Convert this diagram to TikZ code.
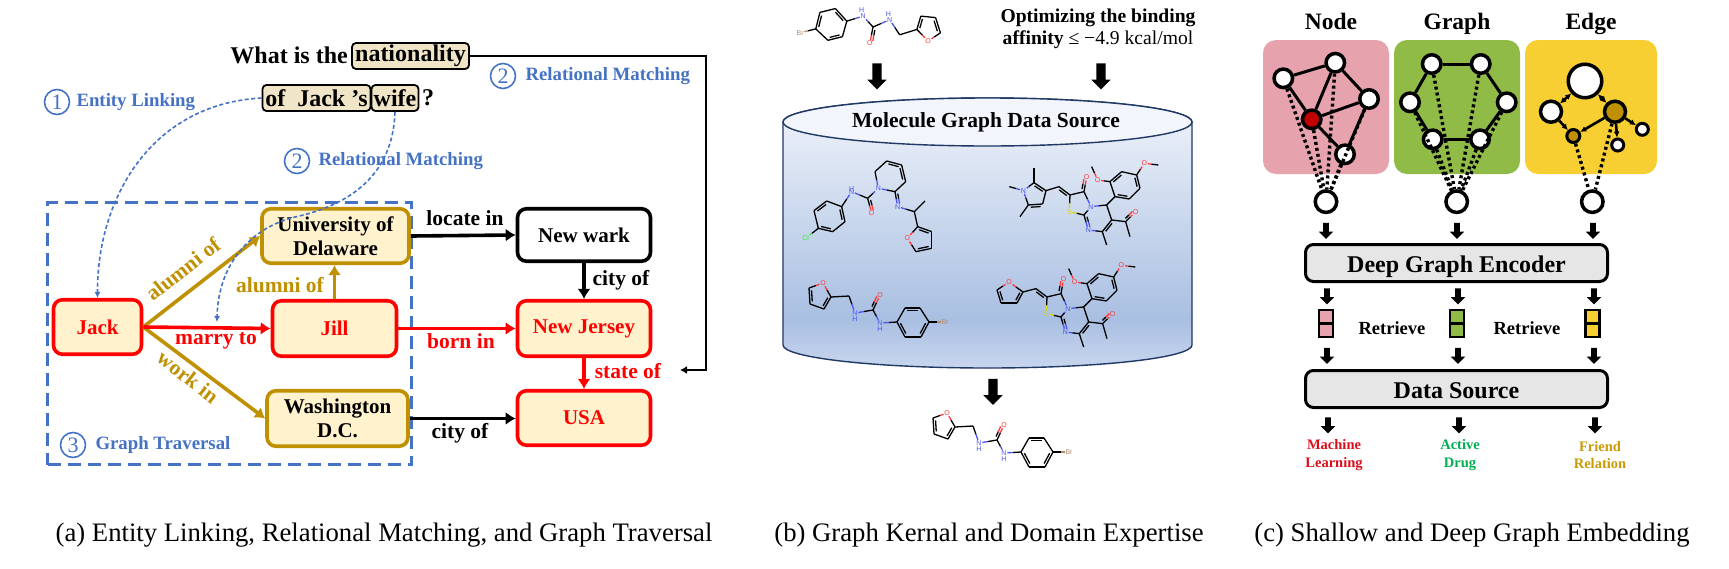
\documentclass[tikz,border=0pt]{standalone}
\usepackage{fontspec}
\setmainfont{Liberation Serif}
\setsansfont{Liberation Sans}
\usepackage{xcolor}
\usetikzlibrary{arrows.meta,calc,positioning,shapes.arrows}
\definecolor{linkblue}{HTML}{4472C4}
\definecolor{goldline}{HTML}{BF9000}
\definecolor{redline}{HTML}{FF0000}
\definecolor{entfill}{HTML}{FFF2CC}
\definecolor{qfill}{HTML}{F0E5C6}
\definecolor{pinkpanel}{HTML}{E6A3AD}
\definecolor{greenpanel}{HTML}{91BB47}
\definecolor{yellowpanel}{HTML}{F7CF33}
\definecolor{greybox}{HTML}{E7E6E6}
\definecolor{noderedc}{HTML}{C00000}
\definecolor{activegreen}{HTML}{00B050}
\definecolor{friendgold}{HTML}{CC9A06}
\definecolor{learnred}{HTML}{DB0F1C}
\definecolor{cyla}{HTML}{F2F5FB}
\definecolor{cylb}{HTML}{E1E9F5}
\definecolor{cyld}{HTML}{A9BFE2}
\definecolor{cylc}{HTML}{C8D6EE}
\definecolor{cylline}{HTML}{1F3864}
\definecolor{molN}{HTML}{4A55F2}
\definecolor{molO}{HTML}{FF3A3A}
\definecolor{molBr}{HTML}{B58A6A}
\definecolor{molCl}{HTML}{3FE83F}
\definecolor{molS}{HTML}{D8D800}
\pgfdeclareverticalshading{cylbody}{100bp}{color(0bp)=(cylc); color(25bp)=(cylc); color(34bp)=(cyld); color(66bp)=(cylb); color(75bp)=(cyla); color(100bp)=(cyla)}
\newcommand{\fsz}[1]{\fontsize{#1}{#1}\selectfont}
\newcommand{\hbond}[3]{\draw[molbond] (#1) -- ($(#1)!.5!(#2)$); \draw[molbond,#3] ($(#1)!.5!(#2)$) -- (#2);}
\newcommand{\dbond}[3]{\coordinate (dp) at ($(#1)!.16!(#2)!2.4pt!90:(#2)$); \coordinate (dq) at ($(#2)!.16!(#1)!2.4pt!-90:(#1)$); \hbond{dp}{dq}{#3}}
\tikzset{
  entity/.style={draw,rounded corners=9pt,line width=3.6pt,fill=entfill,align=center,inner sep=0pt,font=\bfseries\fsz{21}\linespread{1.15}\selectfont},
  goldent/.style={entity,draw=goldline},
  redent/.style={entity,draw=redline,text=redline},
  blkent/.style={entity,draw=black,fill=white},
  qbox/.style={draw,line width=1.8pt,rounded corners=4pt,fill=qfill,inner sep=0pt,minimum height=26pt,font=\bfseries\fsz{24}},
  qtext/.style={inner sep=0pt,font=\bfseries\fsz{24}},
  linkcirc/.style={circle,draw=linkblue,line width=1.6pt,text=linkblue,inner sep=0pt,minimum size=25pt,font=\fsz{22}},
  linktext/.style={inner sep=0pt,text=linkblue,font=\bfseries\fsz{18.8}},
  edgetext/.style={inner sep=0pt,font=\bfseries\fsz{21.5}},
  goldarr/.style={draw=goldline,line width=3.6pt,-{Latex[length=10pt,width=13pt]}},
  redarr/.style={draw=redline,line width=3.6pt,-{Latex[length=10pt,width=13pt]}},
  blkarr/.style={draw=black,line width=3.6pt,-{Latex[length=10pt,width=13pt]}},
  linkdash/.style={draw=linkblue,line width=1.6pt,dash pattern=on 4pt off 2.5pt,-{Latex[length=6pt,width=6pt]}},
  captext/.style={inner sep=0pt,font=\fsz{26.7}},
  bigarrow/.style={single arrow,fill=black,inner xsep=0pt,inner ysep=4.5pt,minimum height=26pt,single arrow head extend=5pt,rotate=-90},
  smallarrow/.style={single arrow,fill=black,inner xsep=0pt,inner ysep=2.6pt,minimum height=16pt,single arrow head extend=4.4pt,rotate=-90},
  molbond/.style={line width=1.3pt,black},
  atomlab/.style={inner sep=.6pt,font=\sffamily\fsz{7}},
  panelbox/.style={rounded corners=13pt,inner sep=0pt,minimum height=134pt},
  paneltitle/.style={inner sep=0pt,anchor=base,font=\bfseries\fsz{23.5}},
  gnode/.style={circle,draw,line width=3.5pt,fill=white,inner sep=0pt,minimum size=#1},
  gline/.style={line width=3pt},
  gdots/.style={line width=3.4pt,dash pattern=on 3pt off 3pt},
  garr/.style={line width=2.6pt,-{Latex[length=6pt,width=6pt]}},
  garrb/.style={line width=2.6pt,{Latex[length=6pt,width=6pt]}-{Latex[length=6pt,width=6pt]}},
  bigbox/.style={draw,line width=3pt,rounded corners=8pt,fill=greybox,minimum width=302pt,minimum height=37pt,inner sep=0pt,text height=19pt,text depth=0pt,font=\bfseries\fsz{24}},
  cell/.style={draw,line width=2.8pt,minimum width=14pt,minimum height=13pt,inner sep=0pt},
  outtext/.style={inner sep=0pt,align=center,font=\bfseries\fsz{14.5}\linespread{1.2}\selectfont},
  pics/urea/.style={code={
    \coordinate (c0) at (0,0);
    \node[atomlab,text=molO] (o1) at (7,-15) {O};
    \node[atomlab,text=molN] (n1) at (-18,3) {N};
    \node[atomlab,text=molN] (h1) at (-18,9) {H};
    \node[atomlab,text=molN] (n2) at (7,13) {N};
    \node[atomlab,text=molN] (h2) at (7,19) {H};
    \node[atomlab,text=molO] (fo) at (-50,-27) {O};
    \node[atomlab,text=molBr] (br) at (72,12) {Br};
    \coordinate (ch) at (-24,-14);
    \coordinate (f1) at (-42,-13);
    \coordinate (f2) at (-49,-1);
    \coordinate (f3) at (-63,-6);
    \coordinate (f4) at (-64,-22);
    \coordinate (r1) at (24,12);
    \coordinate (r2) at (32,-2);
    \coordinate (r3) at (47,-2);
    \coordinate (r4) at (56,12);
    \coordinate (r5) at (48,27);
    \coordinate (r6) at (32,27);
    \hbond{c0}{n1}{molN} \hbond{c0}{n2}{molN} \hbond{ch}{n1}{molN} \hbond{r1}{n2}{molN}
    \hbond{r4}{br}{molBr} \hbond{f1}{fo}{molO} \hbond{f4}{fo}{molO}
    \hbond{c0}{o1}{molO} \dbond{c0}{o1}{molO}
    \foreach \a/\b in {ch/f1,f1/f2,f2/f3,f3/f4,r1/r2,r2/r3,r3/r4,r4/r5,r5/r6,r6/r1}
      \draw[molbond] (\a) -- (\b);
    \dbond{f2}{f1}{black} \dbond{f4}{f3}{black} \dbond{r3}{r2}{black} \dbond{r5}{r4}{black} \dbond{r1}{r6}{black}
  }},
  pics/fusedcore/.style={code={
    \begin{scope}[x=.3333pt,y=-.3333pt]
    \coordinate (ch) at (897,560);
    \coordinate (thc) at (930,585);
    \coordinate (co) at (972,575);
    \node[atomlab,text=molO] (oa) at (980,532) {O};
    \node[atomlab,text=molN] (nb) at (993,620) {N};
    \node[atomlab,text=molS] (sb) at (928,635) {S};
    \coordinate (cb) at (972,645);
    \node[atomlab,text=molN] (nc) at (985,690) {N};
    \coordinate (cm) at (1027,695);
    \coordinate (mc) at (1040,735);
    \coordinate (cac) at (1055,660);
    \coordinate (acc) at (1097,665);
    \node[atomlab,text=molO] (oac) at (1127,635) {O};
    \coordinate (mac) at (1110,710);
    \coordinate (chf) at (1040,615);
    \coordinate (ar1) at (1065,590);
    \coordinate (ar2) at (1050,545);
    \coordinate (ar3) at (1085,515);
    \coordinate (ar4) at (1130,525);
    \coordinate (ar5) at (1140,565);
    \coordinate (ar6) at (1108,597);
    \node[atomlab,text=molO] (ome) at (1013,540) {O};
    \coordinate (mea) at (995,500);
    \node[atomlab,text=molO] (omf) at (1153,490) {O};
    \coordinate (meb) at (1195,495);
    \foreach \a/\b in {ch/thc,thc/co,cm/mc,cm/cac,cac/acc,acc/mac,cac/chf,chf/ar1,ar1/ar2,ar2/ar3,ar3/ar4,ar4/ar5,ar5/ar6,ar6/ar1}
      \draw[molbond] (\a) -- (\b);
    \hbond{co}{oa}{molO} \dbond{co}{oa}{molO} \hbond{co}{nb}{molN} \hbond{cb}{nb}{molN} \hbond{cb}{sb}{molS}
    \hbond{thc}{sb}{molS} \hbond{cb}{nc}{molN} \dbond{cb}{nc}{molN} \hbond{cm}{nc}{molN} \hbond{chf}{nb}{molN}
    \hbond{acc}{oac}{molO} \dbond{acc}{oac}{molO} \hbond{ar2}{ome}{molO} \hbond{mea}{ome}{molO} \hbond{ar4}{omf}{molO} \hbond{meb}{omf}{molO}
    \dbond{thc}{ch}{black} \dbond{cac}{cm}{black} \dbond{ar3}{ar2}{black} \dbond{ar5}{ar4}{black} \dbond{ar1}{ar6}{black}
    \end{scope}
  }},
}
\begin{document}
\begin{tikzpicture}[x=1pt,y=-1pt,>=Latex]
\useasboundingbox (0,0) rectangle (1729,568);
\fill[white] (0,0) rectangle (1729,568);

\node[draw=linkblue,line width=2.9pt,dash pattern=on 13pt off 7pt,minimum width=364pt,minimum height=262pt,inner sep=0pt] (travbox) at (229.5,333.5) {};
\node[qbox,minimum width=117pt] (nat) at (410.5,56) {nationality};
\node[qtext,anchor=east] (what) at (348,55) {What is the};
\node[qbox,minimum width=108pt] (jacks) at (316.5,98) {of\ \ Jack ’s};
\node[qbox,minimum width=47pt] (wife) at (395,98) {wife};
\node[qtext] (qmark) at (428,98) {?};
\node[goldent,minimum width=147pt,minimum height=54.5pt] (univ) at (335.5,236) {University of\\Delaware};
\node[redent,minimum width=88pt,minimum height=54.5pt] (jack) at (97.5,327) {Jack};
\node[redent,minimum width=124pt,minimum height=55.5pt] (jill) at (334.5,328.5) {Jill};
\node[goldent,minimum width=141pt,minimum height=55.5pt] (wash) at (337.5,418.5) {Washington\\D.C.};
\node[blkent,minimum width=133pt,minimum height=52.5pt] (newark) at (584,235) {New wark};
\node[redent,minimum width=133pt,minimum height=55.5pt] (jersey) at (584,328.5) {New Jersey};
\node[redent,minimum width=133pt,minimum height=54.5pt] (usa) at (584,418) {USA};

\draw[goldarr] (jack.east) -- (univ.west);
\draw[goldarr] (jack.east) -- (wash.west);
\draw[goldarr] (jill.north) -- (jill.north|-univ.south);
\draw[redarr] (jack.east) -- (jill.west);
\draw[redarr] (jill.east) -- (jersey.west);
\draw[blkarr] (univ.east) -- (newark.west);
\draw[blkarr] (newark.south) -- (jersey.north);
\draw[redarr] (jersey.south) -- (usa.north);
\draw[blkarr] (wash.east) -- (wash.east-|usa.west);
\coordinate (railb) at (706,370);
\coordinate (railtip) at (680,370);
\draw[line width=2.8pt,-{Latex[length=7pt,width=8pt]}] (nat.east) -| (railb) -- (railtip);

\draw[linkdash] (jacks.west) .. controls (150,104) and (97,200) .. (jack.north);
\coordinate (wifeend) at (217,322);
\coordinate (wifemid) at (295,217);
\draw[linkdash] (wife.south) .. controls (393,175) and (350,205) .. (wifemid) .. controls (250,228) and (218,265) .. (wifeend);

\node[edgetext,text=goldline,rotate=38] (alumnia) at (183,269) {alumni of};
\node[edgetext,text=goldline] (alumnib) at (280,285) {alumni of};
\node[edgetext,text=redline] (marry) at (216,341) {marry to};
\node[edgetext,text=goldline,rotate=-38] (workin) at (188,377) {work in};
\node[edgetext] (locate) at (465,218) {locate in};
\node[edgetext] (cityone) at (621,280) {city of};
\node[edgetext,text=redline] (born) at (461,341) {born in};
\node[edgetext,text=redline] (state) at (628,371) {state of};
\node[edgetext] (citytwo) at (460,433) {city of};

\node[linkcirc] (cira) at (57,102) {1};
\node[linktext,right=6pt of cira] (cirat) {Entity Linking};
\node[linkcirc] (cirb) at (503,76) {2};
\node[linktext,right=9pt of cirb] (cirbt) {Relational Matching};
\node[linkcirc] (circ) at (297,161) {2};
\node[linktext,right=8pt of circ] (circt) {Relational Matching};
\node[linkcirc] (cird) at (73,445) {3};
\node[linktext,right=9pt of cird] (cirdt) {Graph Traversal};

\node[inner sep=0pt,align=center,font=\fsz{19.6}] (optim) at (1098,29) {\textbf{Optimizing the binding}\\[3pt]\textbf{affinity} ≤ −4.9 kcal/mol};
\node[bigarrow] (arrowa) at (877,74) {};
\node[bigarrow] (arrowb) at (1101,74) {};
\path[shading=cylbody,draw=cylline,line width=1.4pt] (783,122) arc[start angle=180,end angle=0,x radius=204.5pt,y radius=24pt] -- (1192,345) arc[start angle=0,end angle=-180,x radius=204.5pt,y radius=23pt] -- cycle;
\draw[cylline,line width=1.4pt,fill=cyla] (987.5,122) ellipse[x radius=204.5pt,y radius=24pt];
\node[inner sep=0pt,font=\bfseries\fsz{21.5}] (srctitle) at (986,122) {Molecule Graph Data Source};
\node[bigarrow] (arrowc) at (993,389.5) {};

\pic[rotate=194] at (873,27) {urea};
\pic at (873,310) {urea};
\pic at (997,440) {urea};

\begin{scope}[shift={(760,0)},x=.3333pt,y=-.3333pt]
\node[atomlab,text=molCl] (cl) at (137,715) {Cl};
\node[atomlab,text=molN] (na) at (275,575) {N};
\node[atomlab,text=molN] (ha) at (275,566) {H};
\node[atomlab,text=molO] (oa) at (335,640) {O};
\node[atomlab,text=molN] (nb) at (355,565) {N};
\node[atomlab,text=molN] (nc) at (413,620) {N};
\node[atomlab,text=molO] (od) at (442,715) {O};
\coordinate (a1) at (175,685);
\coordinate (a2) at (162,632);
\coordinate (a3) at (200,603);
\coordinate (a4) at (245,620);
\coordinate (a5) at (255,665);
\coordinate (a6) at (218,695);
\coordinate (cu) at (323,595);
\coordinate (p1) at (345,515);
\coordinate (p2) at (380,483);
\coordinate (p3) at (425,495);
\coordinate (p4) at (437,545);
\coordinate (p5) at (405,575);
\coordinate (cx) at (463,635);
\coordinate (cy) at (495,603);
\coordinate (g1) at (473,680);
\coordinate (g2) at (468,755);
\coordinate (g3) at (515,745);
\coordinate (g4) at (515,695);
\foreach \a/\b in {a1/a2,a2/a3,a3/a4,a4/a5,a5/a6,a6/a1,p1/p2,p2/p3,p3/p4,p4/p5,cx/cy,cx/g1,g1/g4,g4/g3,g3/g2}
  \draw[molbond] (\a) -- (\b);
\hbond{a1}{cl}{molCl} \hbond{a4}{na}{molN} \hbond{cu}{na}{molN} \hbond{cu}{oa}{molO} \dbond{cu}{oa}{molO}
\hbond{cu}{nb}{molN} \hbond{p1}{nb}{molN} \hbond{p5}{nb}{molN} \hbond{p5}{nc}{molN} \dbond{p5}{nc}{molN}
\hbond{cx}{nc}{molN} \hbond{g1}{od}{molO} \hbond{g2}{od}{molO}
\dbond{a3}{a2}{black} \dbond{a5}{a4}{black} \dbond{a1}{a6}{black} \dbond{p3}{p2}{black} \dbond{p4}{p3}{black} \dbond{g4}{g1}{black} \dbond{g2}{g3}{black}
\end{scope}

\pic at (760,0) {fusedcore};
\begin{scope}[shift={(760,0)},x=.3333pt,y=-.3333pt]
\node[atomlab,text=molN] (np) at (790,572) {N};
\coordinate (me1) at (748,560);
\coordinate (k1) at (822,548);
\coordinate (me2) at (822,505);
\coordinate (k2) at (858,572);
\coordinate (k3) at (848,612);
\coordinate (k4) at (805,615);
\coordinate (me3) at (780,650);
\foreach \a/\b in {k2/ch,k1/k2,k2/k3,k3/k4,k1/me2,k4/me3}
  \draw[molbond] (\a) -- (\b);
\hbond{k1}{np}{molN} \hbond{k4}{np}{molN} \hbond{me1}{np}{molN}
\dbond{k2}{k1}{black} \dbond{k3}{k4}{black}
\end{scope}

\pic at (737,102) {fusedcore};
\node[atomlab,text=molO] (fuo) at (1009,282) {O};
\coordinate (fu1) at (997,290);
\coordinate (fu2) at (1001,303);
\coordinate (fu3) at (1017,303);
\coordinate (fu4) at (1023,292);
\foreach \a/\b in {fu1/fu2,fu2/fu3,fu3/fu4,fu4/ch}
  \draw[molbond] (\a) -- (\b);
\hbond{fu1}{fuo}{molO} \hbond{fu4}{fuo}{molO}
\dbond{fu1}{fu2}{black} \dbond{fu3}{fu4}{black}

\node[paneltitle] (titlen) at (1331,29) {Node};
\node[paneltitle] (titleg) at (1457,29) {Graph};
\node[paneltitle] (titlee) at (1591,29) {Edge};
\node[panelbox,fill=pinkpanel,minimum width=126pt] (pnlpink) at (1326,107) {};
\node[panelbox,fill=greenpanel,minimum width=126pt] (pnlgreen) at (1457,107) {};
\node[panelbox,fill=yellowpanel,minimum width=132pt] (pnlyellow) at (1591,107) {};

\node[gnode=18.5pt] (na) at (1283.3,78.3) {};
\node[gnode=18.5pt] (nb) at (1335.3,62.7) {};
\node[gnode=18.5pt] (nc) at (1369,99) {};
\node[gnode=18.5pt,fill=noderedc] (nd) at (1311.7,119.3) {};
\node[gnode=18.5pt] (ne) at (1345,154.3) {};
\node[gnode=21.5pt] (nout) at (1326,201.7) {};
\foreach \a/\b in {na/nb,na/nd,nb/nd,nb/nc,nd/nc,nd/ne,nc/ne}
  \draw[gline] (\a) -- (\b);
\foreach \a in {na,nb,nc,nd,ne}
  \draw[gdots] (\a) -- (nout);

\node[gnode=18.5pt] (ga) at (1431.7,64) {};
\node[gnode=18.5pt] (gb) at (1480.7,64) {};
\node[gnode=18.5pt] (gc) at (1506.7,102.3) {};
\node[gnode=18.5pt] (gd) at (1480,139.3) {};
\node[gnode=18.5pt] (ge) at (1432.7,139.3) {};
\node[gnode=18.5pt] (gf) at (1410,102.3) {};
\node[gnode=21.5pt] (gout) at (1456.7,201.7) {};
\foreach \a/\b in {ga/gb,gb/gc,gc/gd,gd/ge,ge/gf,gf/ga}
  \draw[gline] (\a) -- (\b);
\foreach \a in {ga,gb,gc,gd,ge,gf}
  \draw[gdots] (\a) -- (gout);

\node[gnode=33.5pt] (ea) at (1585,81) {};
\node[gnode=21pt] (eb) at (1551,111.7) {};
\node[gnode=21pt,fill=goldline] (ec) at (1615,111.7) {};
\node[gnode=13pt,fill=goldline,line width=3pt] (ed) at (1573.3,136) {};
\node[gnode=12pt,line width=3pt] (ee) at (1617.7,145) {};
\node[gnode=12pt,line width=3pt] (ef) at (1642.3,129.3) {};
\node[gnode=21.5pt] (eout) at (1592.3,201.7) {};
\draw[garrb] (eb) -- (ea);
\draw[garrb] (ea) -- (ec);
\foreach \a/\b in {eb/ed,ec/ed,ec/ee,ec/ef}
  \draw[garr] (\a) -- (\b);
\foreach \a in {ec,ed}
  \draw[gdots] (\a) -- (eout);

\foreach \x/\nm in {1326/a,1457/b,1593/c}
  \node[smallarrow] (rowone\nm) at (\x,229.5) {};
\node[bigbox] (encoder) at (1456.5,263) {Deep Graph Encoder};
\foreach \x/\nm in {1327/a,1458/b,1594/c}{
  \node[smallarrow] (rowtwo\nm) at (\x,295) {};
  \node[smallarrow] (rowthr\nm) at (\x,354.5) {};
}
\node[cell,fill=pinkpanel] (cellpa) at (1326,316.5) {};
\node[cell,fill=pinkpanel] (cellpb) at (1326,330.5) {};
\node[cell,fill=greenpanel] (cellga) at (1457,316.5) {};
\node[cell,fill=greenpanel] (cellgb) at (1457,330.5) {};
\node[cell,fill=yellowpanel] (cellya) at (1592.5,316.5) {};
\node[cell,fill=yellowpanel] (cellyb) at (1592.5,330.5) {};
\node[inner sep=0pt,font=\bfseries\fsz{18.5}] (retra) at (1392,328) {Retrieve};
\node[inner sep=0pt,font=\bfseries\fsz{18.5}] (retrb) at (1527,328) {Retrieve};
\node[bigbox] (source) at (1456.5,389) {Data Source};
\foreach \x/\nm in {1328/a,1459/b,1595/c}
  \node[smallarrow] (rowfou\nm) at (\x,424) {};
\node[outtext,text=learnred] (outml) at (1334,455) {Machine\\Learning};
\node[outtext,text=activegreen] (outdrug) at (1460,455) {Active\\Drug};
\node[outtext,text=friendgold] (outfr) at (1600,455) {Friend\\Relation};

\node[captext] (capa) at (384,535) {(a) Entity Linking, Relational Matching, and Graph Traversal};
\node[captext] (capb) at (989,535) {(b) Graph Kernal and Domain Expertise};
\node[captext] (capc) at (1472,535) {(c) Shallow and Deep Graph Embedding};
\end{tikzpicture}
\end{document}
